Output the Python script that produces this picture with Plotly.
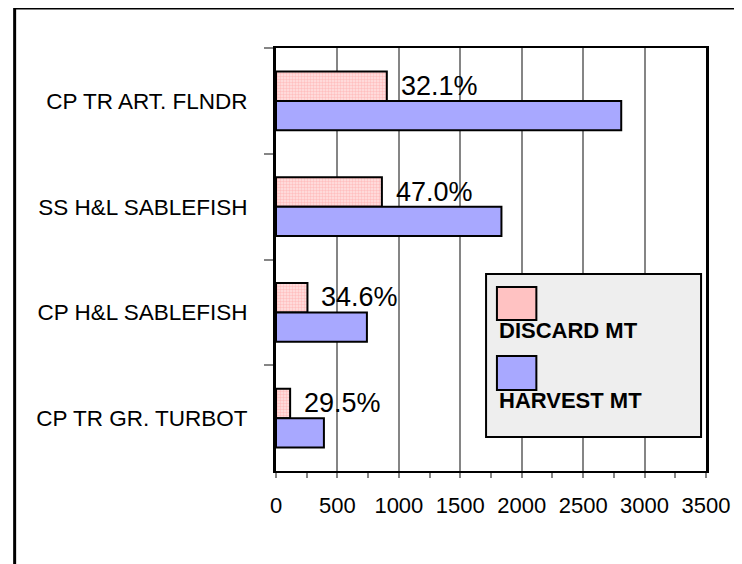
import plotly.graph_objects as go

# Data
categories = ["CP TR ART. FLNDR", "SS H&L SABLEFISH", "CP H&L SABLEFISH", "CP TR GR. TURBOT"]
discard_mt = [902, 862, 256, 115]
harvest_mt = [2810, 1835, 740, 390]
pct_labels = ["32.1%", "47.0%", "34.6%", "29.5%"]
x_ticks = [0, 500, 1000, 1500, 2000, 2500, 3000, 3500]

FONT = "Arial, 'Liberation Sans', sans-serif"
DISCARD_COLOR = "#ffc2c2"
HARVEST_COLOR = "#a8a8ff"

fig = go.Figure()
fig.add_trace(go.Bar(
    name="DISCARD MT", y=categories, x=discard_mt, orientation="h",
    marker=dict(color=DISCARD_COLOR, line=dict(color="black", width=2),
                pattern=dict(shape=".", fgcolor="#ff9c9c", bgcolor="#ffe2e2",
                             size=3, solidity=0.5)),
))
fig.add_trace(go.Bar(
    name="HARVEST MT", y=categories, x=harvest_mt, orientation="h",
    marker=dict(color=HARVEST_COLOR, line=dict(color="black", width=2)),
))

for cat, d, p in zip(categories, discard_mt, pct_labels):
    fig.add_annotation(x=d, y=cat, text=p, showarrow=False, xanchor="left",
                       yanchor="middle", xshift=12, yshift=15,
                       font=dict(family=FONT, size=27, color="black"))

# Legend drawn as a box with swatches above labels (as in the reference)
fig.add_shape(type="rect", xref="paper", yref="paper", x0=0.4885, x1=0.9885,
              y0=0.0804, y1=0.4657, fillcolor="#eeeeee",
              line=dict(color="black", width=2), layer="above")
fig.add_shape(type="rect", xref="paper", yref="paper", x0=0.5138, x1=0.6055,
              y0=0.357, y1=0.435, fillcolor=DISCARD_COLOR,
              line=dict(color="black", width=2), layer="above")
fig.add_shape(type="rect", xref="paper", yref="paper", x0=0.5138, x1=0.6055,
              y0=0.1915, y1=0.2719, fillcolor=HARVEST_COLOR,
              line=dict(color="black", width=2), layer="above")
fig.add_annotation(xref="paper", yref="paper", x=0.5138, y=0.331, text="<b>DISCARD MT</b>",
                   showarrow=False, xanchor="left", yanchor="middle",
                   font=dict(family=FONT, size=22, color="black"))
fig.add_annotation(xref="paper", yref="paper", x=0.5138, y=0.1678, text="<b>HARVEST MT</b>",
                   showarrow=False, xanchor="left", yanchor="middle",
                   font=dict(family=FONT, size=22, color="black"))

# Outer frame lines (top and left)
fig.add_shape(type="line", xref="paper", yref="paper", x0=-0.6078, x1=1.2,
              y0=1.0946, y1=1.0946, line=dict(color="black", width=3))
fig.add_shape(type="line", xref="paper", yref="paper", x0=-0.6078, x1=-0.6078,
              y0=1.0946, y1=-0.3, line=dict(color="black", width=3))

# page body has an 8px margin: size and margins compensate for it
fig.update_layout(
    width=734, height=556,
    margin=dict(l=268, r=30, t=40, b=93),
    paper_bgcolor="white", plot_bgcolor="white",
    barmode="group", bargap=0.443, bargroupgap=0,
    showlegend=False,
    font=dict(family=FONT, size=22, color="black"),
)
fig.update_xaxes(
    range=[0, 3500], tickvals=x_ticks, ticktext=[str(v) for v in x_ticks],
    showgrid=True, gridcolor="#858585", gridwidth=2,
    showline=True, linecolor="black", linewidth=2, mirror=True,
    ticks="outside", ticklen=5, tickcolor="#858585", tickwidth=2,
    minor=dict(dtick=250, ticks="outside", ticklen=5, tickcolor="#858585", tickwidth=2),
    ticklabelstandoff=9, zeroline=False,
    tickfont=dict(family=FONT, size=22, color="black"),
)
fig.update_yaxes(
    categoryorder="array", categoryarray=categories, autorange="reversed",
    showgrid=False, showline=True, linecolor="black", linewidth=3, mirror=True,
    ticks="outside", tickson="boundaries", ticklen=9, tickcolor="#858585", tickwidth=2,
    ticklabelstandoff=21,
    tickfont=dict(family=FONT, size=22.5, color="black"),
)

fig.write_html("out.html")
